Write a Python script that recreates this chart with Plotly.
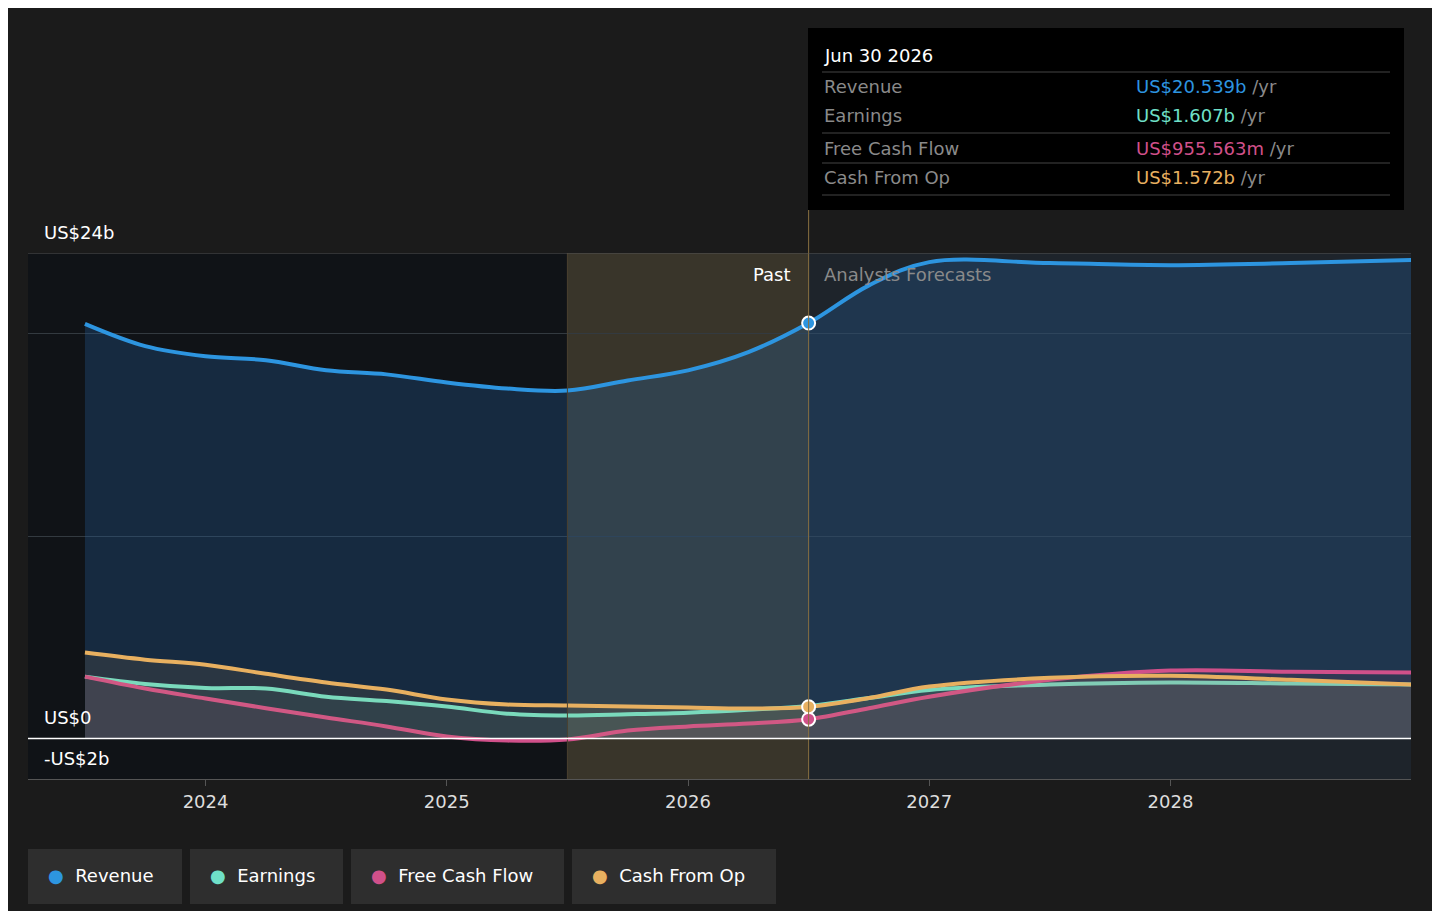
import plotly.graph_objects as go

# quarterly points (decimal years), values in US$ billions
anios = [2023.5, 2023.75, 2024.0, 2024.25, 2024.5, 2024.75, 2025.0, 2025.25, 2025.5,
         2025.75, 2026.0, 2026.25, 2026.5, 2026.75, 2027.0, 2027.5, 2028.0, 2028.5, 2029.0]
ingresos = [20.5, 19.4, 18.9, 18.7, 18.2, 18.0, 17.6, 17.3, 17.2,
            17.7, 18.2, 19.1, 20.539, 22.4, 23.55, 23.5, 23.4, 23.5, 23.65]
ganancias = [3.06, 2.7, 2.5, 2.47, 2.07, 1.85, 1.58, 1.23, 1.14,
             1.2, 1.28, 1.42, 1.607, 2.0, 2.4, 2.67, 2.77, 2.72, 2.67]
flujo_libre = [3.06, 2.47, 1.98, 1.5, 1.04, 0.6, 0.1, -0.1, -0.05,
               0.4, 0.6, 0.74, 0.956, 1.5, 2.07, 2.9, 3.36, 3.3, 3.26]
flujo_oper = [4.25, 3.9, 3.65, 3.2, 2.77, 2.42, 1.93, 1.68, 1.63,
              1.58, 1.53, 1.48, 1.572, 2.0, 2.57, 3.0, 3.1, 2.9, 2.67]
hoy = 2026.5
inicio_pasado = 2025.5

series = [
    ("Revenue", ingresos, "#2d95e0", "rgba(35,95,160,0.30)"),
    ("Earnings", ganancias, "#6fe0c8", "rgba(110,200,180,0.08)"),
    ("Free Cash Flow", flujo_libre, "#d0508a", "rgba(200,80,130,0.10)"),
    ("Cash From Op", flujo_oper, "#e8b060", "rgba(230,170,90,0.10)"),
]

fig = go.Figure()
for nombre, valores, color, relleno in series:
    fig.add_trace(go.Scatter(x=anios, y=valores, name=nombre, mode="lines",
                             line=dict(color=color, width=4, shape="spline"),
                             fill="tozeroy", fillcolor=relleno, showlegend=False))

for nombre, valores, color, relleno in [series[0], series[2], series[3]]:
    fig.add_trace(go.Scatter(x=[hoy], y=[valores[anios.index(hoy)]], mode="markers",
                             marker=dict(color=color, size=13, line=dict(color="white", width=2)),
                             showlegend=False))

def px_x(p):
    return (p - 28) / 1383

def px_y(p):
    return (779 - p) / 526

shapes = [
    dict(type="rect", xref="x", yref="paper", x0=2023.26, x1=inicio_pasado, y0=0, y1=1,
         fillcolor="rgba(0,0,0,0.45)", line_width=0, layer="below"),
    dict(type="rect", xref="x", yref="paper", x0=inicio_pasado, x1=hoy, y0=0, y1=1,
         fillcolor="rgba(110,85,40,0.35)", line_width=0, layer="below"),
    dict(type="line", xref="x", yref="paper", x0=inicio_pasado, x1=inicio_pasado, y0=0, y1=1,
         line=dict(color="#4a4030", width=1)),
    dict(type="line", xref="x", yref="paper", x0=hoy, x1=hoy, y0=0, y1=px_y(28),
         line=dict(color="#8a7040", width=1)),
    dict(type="line", xref="paper", yref="y", x0=0, x1=1, y0=0, y1=0,
         line=dict(color="white", width=1.5)),
    dict(type="line", xref="paper", yref="y", x0=0, x1=1, y0=24, y1=24,
         line=dict(color="#555", width=1)),
    dict(type="rect", xref="paper", yref="paper", x0=px_x(808), x1=px_x(1404),
         y0=px_y(210), y1=px_y(28), fillcolor="black", line_width=0),
]
for py in [72, 133, 163, 195]:
    shapes.append(dict(type="line", xref="paper", yref="paper", x0=px_x(822), x1=px_x(1390),
                       y0=px_y(py), y1=px_y(py), line=dict(color="#444", width=1)))

annotations = [
    dict(text="US$24b", x=px_x(42), y=px_y(232), xanchor="left", yanchor="middle"),
    dict(text="US$0", x=px_x(42), y=px_y(717), xanchor="left", yanchor="middle"),
    dict(text="-US$2b", x=px_x(42), y=px_y(758), xanchor="left", yanchor="middle"),
    dict(text="Past", x=px_x(793), y=px_y(274), xanchor="right", yanchor="middle"),
    dict(text="Analysts Forecasts", x=px_x(822), y=px_y(274), xanchor="left",
         yanchor="middle", font=dict(color="#8a8a8a", size=18)),
    dict(text="Jun 30 2026", x=px_x(822), y=px_y(55), xanchor="left", yanchor="middle"),
]
filas = [("Revenue", "US$20.539b"), ("Earnings", "US$1.607b"),
         ("Free Cash Flow", "US$955.563m"), ("Cash From Op", "US$1.572b")]
for i, (etiqueta, valor) in enumerate(filas):
    py = [86, 116, 148, 178][i]
    annotations.append(dict(text=etiqueta, x=px_x(822), y=px_y(py), xanchor="left",
                            yanchor="middle", font=dict(color="#8a8a8a", size=18)))
    annotations.append(dict(text=f"<span style='color:{series[i][2]}'>{valor}</span> /yr",
                            x=px_x(1134), y=px_y(py), xanchor="left", yanchor="middle",
                            font=dict(color="#8a8a8a", size=18)))

botones = [(28, 182), (190, 343), (351, 564), (572, 776)]
for (x0, x1), (nombre, _, color, _) in zip(botones, series):
    shapes.append(dict(type="rect", xref="paper", yref="paper", x0=px_x(x0), x1=px_x(x1),
                       y0=px_y(904), y1=px_y(849), fillcolor="#2e2e2e", line_width=0))
    annotations.append(dict(text=f"<span style='color:{color}'>●</span>  {nombre}",
                            x=px_x(x0 + 18), y=px_y(875), xanchor="left", yanchor="middle"))

for a in annotations:
    a.setdefault("font", dict(color="white", size=18))
    a.update(xref="paper", yref="paper", showarrow=False)

# the page puts the figure 8px in from the top-left corner
fig.update_layout(
    width=1424, height=903,
    paper_bgcolor="#1b1b1b", plot_bgcolor="#1e242b",
    margin=dict(l=20, r=21, t=245, b=132),
    font=dict(family="DejaVu Sans", color="white", size=18),
    shapes=shapes, annotations=annotations,
    xaxis=dict(range=[2023.264, 2028.997], tickvals=[2024, 2025, 2026, 2027, 2028],
               ticktext=["2024", "2025", "2026", "2027", "2028"], showgrid=False,
               zeroline=False, showline=True, linecolor="#555", ticks="outside",
               tickcolor="#555", ticklen=6, tickfont=dict(color="#dddddd", size=18)),
    yaxis=dict(range=[-2, 24], tickvals=[10, 20], showticklabels=False,
               gridcolor="#333a40", zeroline=False),
)

fig.write_html("out.html")
